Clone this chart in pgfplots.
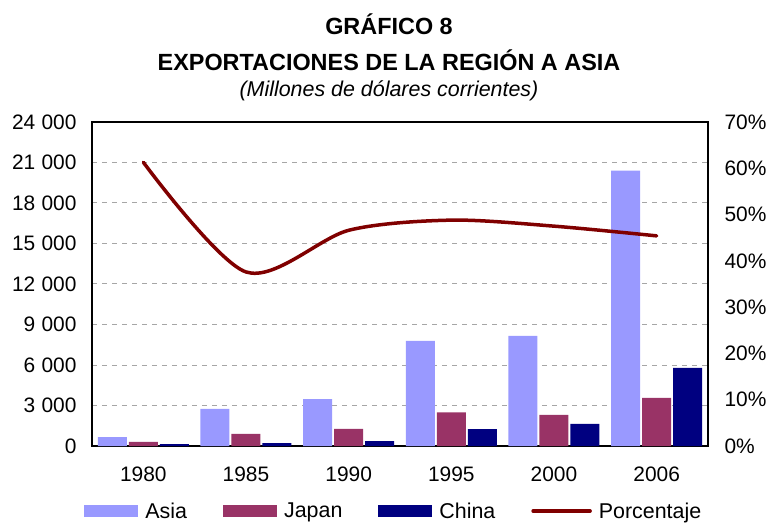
\documentclass[border=0pt]{standalone}
\usepackage{pgfplots}
\pgfplotsset{compat=1.18}
\usepackage{fontspec}
\setmainfont{Liberation Sans}
\definecolor{asiac}{HTML}{9999FF}
\definecolor{japanc}{HTML}{993366}
\definecolor{chinac}{HTML}{000080}
\definecolor{linec}{HTML}{800000}
\definecolor{gridc}{HTML}{A6A6A6}
\newcommand{\ts}{\hspace{0.3em}}
\pgfplotsset{
  barlegend/.style={legend image code/.code={\fill[##1] (0bp,-6bp) rectangle (54bp,6bp);}},
  linelegend/.style={legend image code/.code={\draw[##1] (0bp,0bp) -- (57bp,0bp);}},
}
\begin{document}
\begin{tikzpicture}
\useasboundingbox (-92bp,-77bp) rectangle (679bp,446bp);
\begin{axis}[
  scale only axis, width=616bp, height=324bp,
  at={(0bp,0bp)}, anchor=south west,
  xmin=-0.5, xmax=5.5, ymin=0, ymax=24000,
  scaled y ticks=false,
  ybar=2bp, bar width=29bp,
  xtick={0,1,2,3,4,5},
  xticklabels={1980,1985,1990,1995,2000,2006},
  ytick={0,3000,6000,9000,12000,15000,18000,21000,24000},
  yticklabels={0,3\ts000,6\ts000,9\ts000,12\ts000,15\ts000,18\ts000,21\ts000,24\ts000},
  major tick length=0,
  ymajorgrids,
  grid style={dash pattern=on 5bp off 5bp, gridc, line width=1bp},
  axis line style={line width=1.6bp},
  tick label style={font=\fontsize{21}{24}\selectfont},
  yticklabel style={xshift=-12bp},
  xticklabel style={yshift=-17bp},
  /pgf/number format/assume math mode=true,
  legend columns=4,
  legend style={draw=none, at={(0.49,-0.2006)}, anchor=center,
    font=\fontsize{21.5}{24}\selectfont,
    /tikz/every odd column/.append style={column sep=5bp},
    /tikz/every even column/.append style={column sep=34bp},
    inner sep=0pt},
  legend cell align=left,
]
\addplot[fill=asiac, draw=none, barlegend] coordinates {(0,650) (1,2750) (2,3480) (3,7780) (4,8150) (5,20400)};
\addlegendentry{Asia}
\addplot[fill=japanc, draw=none, barlegend] coordinates {(0,300) (1,900) (2,1260) (3,2500) (4,2300) (5,3560)};
\addlegendentry{Japan}
\addplot[fill=chinac, draw=none, barlegend] coordinates {(0,130) (1,220) (2,370) (3,1250) (4,1630) (5,5780)};
\addlegendentry{China}
\addlegendimage{line width=3.5bp, color=linec, line cap=round, linelegend}
\addlegendentry{Porcentaje}
\end{axis}
\begin{axis}[
  scale only axis, width=616bp, height=324bp,
  at={(0bp,0bp)}, anchor=south west,
  xmin=-0.5, xmax=5.5, ymin=0, ymax=70,
  axis x line=none, axis y line*=right,
  ytick={0,10,20,30,40,50,60,70},
  yticklabels={0\%,10\%,20\%,30\%,40\%,50\%,60\%,70\%},
  major tick length=0,
  axis line style={line width=1.6bp},
  tick label style={font=\fontsize{21}{24}\selectfont},
  yticklabel style={xshift=13bp},
]
\addplot[smooth, line width=3.5bp, color=linec, line cap=round] coordinates {(0,61.3) (1,37.6) (2,46.6) (3,48.8) (4,47.5) (5,45.4)};
\end{axis}
\node[font=\bfseries\fontsize{23.5}{26}\selectfont] at (297bp,422bp) {GRÁFICO 8};
\node[font=\bfseries\fontsize{23.5}{26}\selectfont] at (297bp,386bp) {EXPORTACIONES DE LA REGIÓN A ASIA};
\node[font=\itshape\fontsize{21.5}{24}\selectfont] at (297bp,355bp) {(Millones de dólares corrientes)};
\end{tikzpicture}
\end{document}
